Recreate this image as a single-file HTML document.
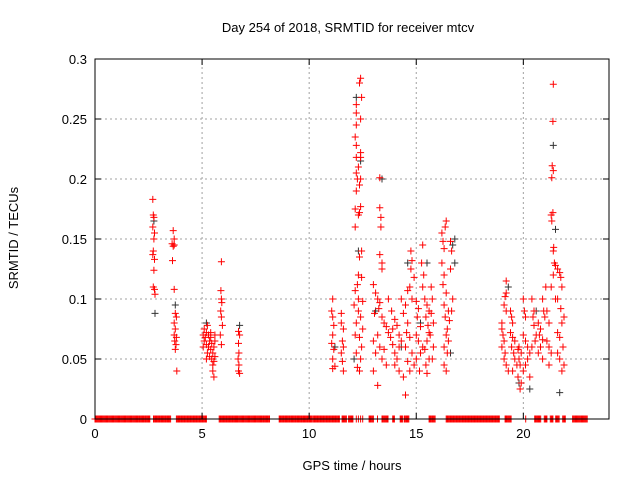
<!DOCTYPE html>
<html><head><meta charset="utf-8"><style>
body{margin:0;background:#fff;}
svg{display:block;font-family:"Liberation Sans",sans-serif;}
</style></head><body>
<svg id="chart" width="640" height="480" viewBox="0 0 640 480" xmlns="http://www.w3.org/2000/svg">
<rect x="0" y="0" width="640" height="480" fill="#fff"/>
<text x="348" y="32" font-size="13" text-anchor="middle">Day 254 of 2018, SRMTID for receiver mtcv</text>
<text transform="translate(18,238) rotate(-90)" font-size="13" text-anchor="middle">SRMTID / TECUs</text>
<text x="352" y="470" font-size="13" text-anchor="middle">GPS time / hours</text>
<g id="grid"></g><g id="marks"></g><g id="axes"></g>
</svg>
<script>
const xTicks=[0,5,10,15,20];
const yTicks=[0,0.05,0.1,0.15,0.2,0.25,0.3];
const yTickLabels=["0","0.05","0.1","0.15","0.2","0.25","0.3"];
const zeroRuns=[[0,2.57],[2.73,3.55],[3.8,5.2],[5.8,6.6],[6.63,8.16],[8.6,10.13],[10.17,11.42],[11.54,11.77],[11.84,12.06],[12.2,12.2],[12.3,12.3],[12.4,12.4],[12.5,12.5],[12.8,13.0],[13.19,13.19],[13.4,13.7],[13.9,14.0],[14.25,14.4],[14.45,14.65],[15.6,15.9],[16.4,18.9],[19.15,19.43],[20.11,20.11],[20.53,20.81],[20.98,21.13],[21.26,21.38],[21.51,21.68],[21.84,21.98],[22.3,22.98]];
const blackPts=[[2.8,.088],[2.75,.165],[3.75,.095],[5.2,.08],[6.75,.078],[12.2,.268],[12.4,.215],[12.3,.14],[13.4,.2],[15.5,.13],[16.8,.15],[16.8,.13],[16.6,.055],[21.4,.228],[21.5,.158],[21.7,.022],[20.3,.025],[15.2,.08],[14.3,.06],[11.2,.06],[12.1,.05],[19.8,.03],[20.6,.09],[14.6,.13],[16.7,.145],[13.1,.09],[19.3,.11]];
const redPts=[[2.7,.183],[2.72,.17],[2.75,.168],[2.7,.16],[2.78,.155],[2.75,.15],[2.72,.14],[2.7,.137],[2.78,.133],[2.75,.124],[2.72,.11],[2.78,.108],[2.8,.104],
[3.65,.157],[3.7,.15],[3.6,.146],[3.7,.145],[3.65,.144],[3.62,.132],[3.7,.108],[3.75,.088],[3.8,.085],[3.7,.08],[3.75,.075],[3.7,.07],[3.8,.068],[3.72,.065],[3.78,.062],[3.75,.058],[3.82,.04],
[5.05,.07],[5.1,.075],[5.15,.068],[5.2,.072],[5.1,.065],[5.2,.062],[5.25,.078],[5.3,.07],[5.35,.065],[5.3,.06],[5.4,.068],[5.45,.063],[5.4,.058],[5.5,.055],[5.35,.052],[5.45,.05],[5.5,.045],[5.55,.06],[5.6,.052],[5.55,.048],[5.5,.04],[5.55,.035],[5.6,.07],[5.4,.072],[5.25,.055],[5.2,.05],[5.6,.065],[5.05,.06],
[5.9,.131],[5.88,.107],[5.9,.1],[5.92,.097],[5.87,.09],[5.9,.085],[5.95,.078],[5.85,.07],[5.9,.062],
[6.7,.073],[6.75,.07],[6.7,.063],[6.72,.055],[6.68,.05],[6.72,.045],[6.7,.04],[6.75,.038],
[11.1,.1],[11.05,.09],[11.1,.085],[11.15,.078],[11.1,.07],[11.05,.063],[11.15,.058],[11.1,.05],[11.2,.044],[11.1,.042],[11.5,.088],[11.5,.08],[11.6,.075],[11.55,.065],[11.6,.06],[11.5,.055],[11.55,.048],[11.6,.04],
[12.4,.284],[12.35,.28],[12.45,.268],[12.2,.262],[12.2,.255],[12.4,.25],[12.2,.245],[12.15,.235],[12.2,.228],[12.4,.222],[12.2,.218],[12.4,.218],[12.3,.21],[12.4,.2],[12.2,.205],[12.25,.2],[12.35,.195],[12.2,.19],[12.4,.177],[12.35,.172],[12.15,.175],[12.3,.17],[12.15,.16],[12.45,.14],[12.35,.135],[12.3,.12],[12.45,.118],[12.25,.112],[12.15,.107],[12.3,.1],[12.5,.098],[12.1,.095],[12.3,.09],[12.4,.085],[12.2,.08],[12.5,.075],[12.15,.07],[12.35,.068],[12.45,.06],[12.2,.055],[12.4,.05],[12.25,.043],[12.35,.04],
[13.3,.201],[13.3,.176],[13.35,.168],[13.35,.16],[13.3,.137],[13.4,.13],[13.4,.125],[13.0,.112],[13.1,.105],[13.2,.1],[13.3,.097],[13.25,.092],[13.05,.088],[13.4,.085],[13.5,.08],[13.6,.077],[13.7,.072],[13.2,.07],[13.0,.065],[13.3,.06],[13.5,.058],[13.1,.055],[13.4,.05],[13.6,.045],[13.0,.04],[13.2,.028],[13.8,.068],[13.9,.075],[13.85,.09],[13.7,.1],[14.0,.083],[14.1,.078],[14.2,.07],[13.9,.062],[14.0,.055],[14.1,.05],[14.2,.06],[14.3,.065],[14.0,.045],[14.2,.04],[14.4,.035],[14.5,.02],[14.3,.1],[14.5,.095],[14.4,.088],[14.6,.08],[14.55,.072],[14.7,.068],[14.5,.06],[14.8,.055],[14.6,.048],[14.9,.045],[14.7,.04],[14.75,.14],[14.8,.132],[14.75,.125],[14.9,.118],[14.7,.11],[14.6,.107],[14.8,.1],[15.0,.098],[15.1,.092],[15.05,.085],[15.2,.077],[15.0,.07],[15.1,.065],[15.3,.06],[15.2,.055],[15.0,.05],[15.15,.04],[15.3,.145],[15.25,.13],[15.35,.12],[15.3,.11],[15.4,.1],[15.5,.095],[15.6,.09],[15.45,.085],[15.55,.078],[15.6,.072],[15.5,.065],[15.4,.058],[15.6,.05],[15.45,.045],[15.5,.038],[15.7,.11],[15.75,.1],[15.7,.088],[15.8,.08],[15.65,.07],[15.8,.06],[15.75,.05],
[16.2,.155],[16.25,.148],[16.3,.142],[16.35,.16],[16.4,.165],[16.2,.13],[16.3,.12],[16.25,.112],[16.4,.105],[16.3,.095],[16.5,.09],[16.35,.085],[16.45,.075],[16.4,.07],[16.5,.065],[16.3,.06],[16.45,.055],[16.3,.045],[16.4,.04],[16.6,.148],[16.65,.14],[16.6,.125],[16.7,.1],[16.65,.09],[16.55,.082],
[19.2,.115],[19.2,.105],[19.15,.102],[19.1,.095],[19.2,.09],[19.0,.08],[19.0,.075],[19.05,.07],[19.1,.065],[19.0,.06],[19.15,.055],[19.1,.05],[19.2,.045],[19.3,.04],[19.4,.09],[19.45,.085],[19.5,.08],[19.4,.072],[19.5,.068],[19.6,.065],[19.45,.06],[19.55,.055],[19.6,.05],[19.7,.045],[19.5,.04],[19.8,.06],[19.75,.058],[19.9,.055],[19.8,.05],[19.85,.045],[19.75,.035],[19.9,.03],[19.85,.025],[20.0,.1],[20.05,.09],[20.1,.085],[20.0,.07],[20.1,.065],[20.2,.06],[20.3,.055],[20.2,.05],[20.1,.045],[20.0,.04],[20.3,.035],[20.4,.1],[20.5,.09],[20.45,.085],[20.5,.078],[20.6,.07],[20.55,.065],[20.4,.06],[20.7,.08],[20.8,.075],[20.75,.07],[20.9,.066],[20.8,.06],[20.7,.055],[20.9,.05],[21.0,.085],[21.1,.09],[20.9,.1],[21.05,.11],[20.95,.09],[21.1,.065],[21.2,.06],[21.3,.055],[21.2,.045],[21.45,.13],[21.4,.14],[21.4,.12],[21.5,.1],[21.3,.11],[21.2,.08],
[21.4,.279],[21.38,.248],[21.35,.211],[21.4,.207],[21.33,.201],[21.3,.17],[21.38,.172],[21.33,.165],[21.42,.143],[21.5,.128],[21.6,.125],[21.7,.122],[21.75,.118],[21.8,.11],[21.6,.1],[21.75,.092],[21.9,.085],[21.8,.08],[21.6,.072],[21.7,.068],[21.85,.06],[21.6,.055],[21.7,.05],[21.9,.045],[21.8,.04]];

const NS="http://www.w3.org/2000/svg";
const X0=95,X1=609,Y0=419,Y1=59,XMAX=24,YMAX=0.3;
function sx(v){return X0+v/XMAX*(X1-X0);}
function sy(v){return Y0-v/YMAX*(Y0-Y1);}
function el(tag,attrs,parent){const e=document.createElementNS(NS,tag);for(const k in attrs)e.setAttribute(k,attrs[k]);parent.appendChild(e);return e;}
const grid=document.getElementById('grid'),marks=document.getElementById('marks'),axes=document.getElementById('axes');
xTicks.forEach(t=>{if(t>0){const g=el('line',{x1:sx(t),x2:sx(t),y1:Y0,y2:Y1,stroke:'#a0a0a0','stroke-dasharray':'2,3'},grid);

}
const tk=el('line',{x1:sx(t),x2:sx(t),y1:Y0,y2:Y0-6,stroke:'#000'},axes);


const lb=el('text',{x:sx(t),y:Y0+19,'font-size':13,'text-anchor':'middle'},axes);lb.textContent=String(t);


const tk2=el('line',{x1:sx(t),x2:sx(t),y1:Y1,y2:Y1+6,stroke:'#000'},axes);

});
yTicks.forEach((t,i)=>{if(t>0&&t<YMAX){const g=el('line',{x1:X0,x2:X1,y1:sy(t),y2:sy(t),stroke:'#a0a0a0','stroke-dasharray':'2,3'},grid);

}
const tk=el('line',{x1:X0,x2:X0+6,y1:sy(t),y2:sy(t),stroke:'#000'},axes);


const tk2=el('line',{x1:X1,x2:X1-6,y1:sy(t),y2:sy(t),stroke:'#000'},axes);


const lb=el('text',{x:X0-8,y:sy(t)+5,'font-size':13,'text-anchor':'end'},axes);lb.textContent=yTickLabels[i];

});
const fr=el('rect',{x:X0,y:Y1,width:X1-X0,height:Y0-Y1,fill:'none',stroke:'#000'},axes);


function plus(x,y,color,name){const p=el('path',{d:`M${(x-3.5).toFixed(1)} ${y.toFixed(1)}h7M${x.toFixed(1)} ${(y-3.5).toFixed(1)}v7`,stroke:color,'stroke-width':1,fill:'none'},marks);

}
blackPts.forEach(d=>plus(sx(d[0]),sy(d[1]),'#333','black-point'));
redPts.forEach(d=>plus(sx(d[0]),sy(d[1]),'#ff0000','red-point'));
zeroRuns.forEach(r=>{for(let h=r[0];h<=r[1]+1e-9;h+=0.04)plus(sx(h),sy(0),'#ff0000','zero-point');});
</script>
</body></html>
